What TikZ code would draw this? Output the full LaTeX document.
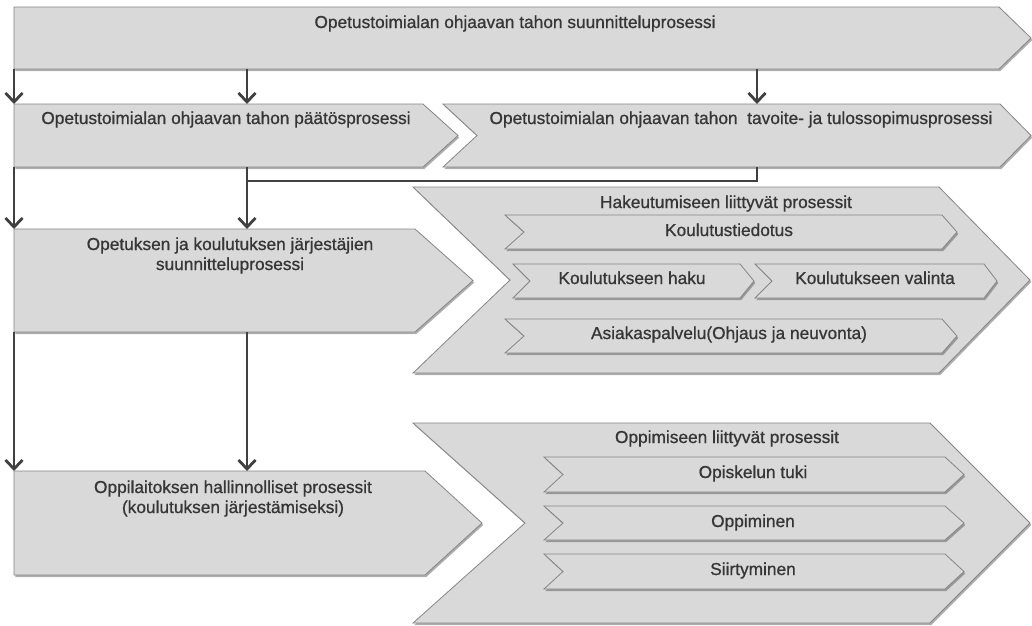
\documentclass[tikz,border=0pt]{standalone}
\usepackage{fontspec}
\setmainfont{Liberation Sans}
\newfontfamily\labelfont{Liberation Sans}[FakeBold=0.8]
\usetikzlibrary{arrows.meta,shadows,calc}

\definecolor{boxfill}{HTML}{D9D9D9}
\definecolor{boxline}{HTML}{858585}
\definecolor{ink}{HTML}{363636}
\definecolor{wire}{HTML}{404040}

\tikzset{
  procbox/.style={fill=boxfill, draw=boxline, line width=0.8pt, line join=miter,
    drop shadow={shadow xshift=1.3pt, shadow yshift=-2pt, opacity=0.45, fill=black!70}},
  frame/.style={inner sep=0pt, outer sep=0pt, draw=none, anchor=north west},
  lbl/.style={text=ink, font=\labelfont\fontsize{17.3}{20}\selectfont, inner sep=0pt,
    align=center, anchor=base},
  wireline/.style={draw=wire, line width=2.8pt},
  flow/.style={wireline, -{Straight Barb[length=9pt,width=17pt,line width=2.8pt]}},
}

% #1 name, #2 left, #3 top, #4 right end of straight part, #5 bottom,
% #6 notch depth (0 = flat left side), #7 depth of the pointed right end
\newcommand{\procshape}[7]{%
  \node[frame, minimum width={(#4-#2)*1pt}, minimum height={(#5-#3)*1pt}] (#1) at (#2,#3) {};
  \path[procbox] (#2,#3) -- (#4,#3) -- ({#4+#7},{(#3+#5)/2}) -- (#4,#5)
    -- (#2,#5) -- ({#2+#6},{(#3+#5)/2}) -- cycle;
}

\begin{document}
\begin{tikzpicture}[x=1pt,y=-1pt]
\useasboundingbox (0,0) rectangle (1032,625);

% steering level
\procshape{plan}{14}{7}{999}{69}{0}{32}
\procshape{decide}{14}{104}{423}{167}{0}{35}
\procshape{target}{443}{104}{1000}{167}{34}{31}

% organiser level
\procshape{orgplan}{14}{229}{415}{332}{0}{58}
\procshape{admin}{14}{471}{425}{575}{0}{57}

% application processes
\procshape{apply}{413}{187}{939}{373}{97}{91}
\procshape{info}{505}{215}{942}{249}{19}{15}
\procshape{search}{513}{264}{740}{298}{17}{14}
\procshape{select}{755}{264}{984}{298}{17}{13}
\procshape{service}{505}{319}{942}{353}{19}{15}

% learning processes
\procshape{learn}{413}{423}{930}{623}{112}{100}
\procshape{support}{544}{457}{945}{492}{19}{19}
\procshape{study}{544}{506}{945}{540}{19}{19}
\procshape{transit}{544}{554}{945}{589}{19}{19}

% labels (anchored on the baseline of the last line)
\node[lbl] (tplan) at (515,28) {Opetustoimialan ohjaavan tahon suunnitteluprosessi};
\node[lbl] (tdecide) at (226,124) {Opetustoimialan ohjaavan tahon päätösprosessi};
\node[lbl] (ttarget) at (741,124) {Opetustoimialan ohjaavan tahon~ tavoite- ja tulossopimusprosessi};
\node[lbl] (torgplan) at (230,270) {Opetuksen ja koulutuksen järjestäjien\\suunnitteluprosessi};
\node[lbl] (tadmin) at (233,513) {Oppilaitoksen hallinnolliset prosessit\\(koulutuksen järjestämiseksi)};
\node[lbl] (tapply) at (726,208) {Hakeutumiseen liittyvät prosessit};
\node[lbl] (tinfo) at (729,236) {Koulutustiedotus};
\node[lbl] (tsearch) at (632,284) {Koulutukseen haku};
\node[lbl] (tselect) at (875,284) {Koulutukseen valinta};
\node[lbl] (tservice) at (729,339) {Asiakaspalvelu(Ohjaus ja neuvonta)};
\node[lbl] (tlearn) at (727,443) {Oppimiseen liittyvät prosessit};
\node[lbl] (tsupport) at (753,478) {Opiskelun tuki};
\node[lbl] (tstudy) at (753,527) {Oppiminen};
\node[lbl] (ttransit) at (753,575) {Siirtyminen};

% connector columns
\coordinate (colB) at (247,0);
\coordinate (colC) at (757,0);
\coordinate (bus) at (247,181);

\draw[flow] (plan.south west) -- (decide.north west);
\draw[flow] (plan.south -| colB) -- (decide.north -| colB);
\draw[flow] (plan.south -| colC) -- (target.north -| colC);

\draw[flow] (decide.south west) -- (orgplan.north west);
\draw[flow] (decide.south -| colB) -- (orgplan.north -| colB);
\draw[wireline] (target.south -| colC) |- (bus);

\draw[flow] (orgplan.south west) -- (admin.north west);
\draw[flow] (orgplan.south -| colB) -- (admin.north -| colB);
\end{tikzpicture}
\end{document}
